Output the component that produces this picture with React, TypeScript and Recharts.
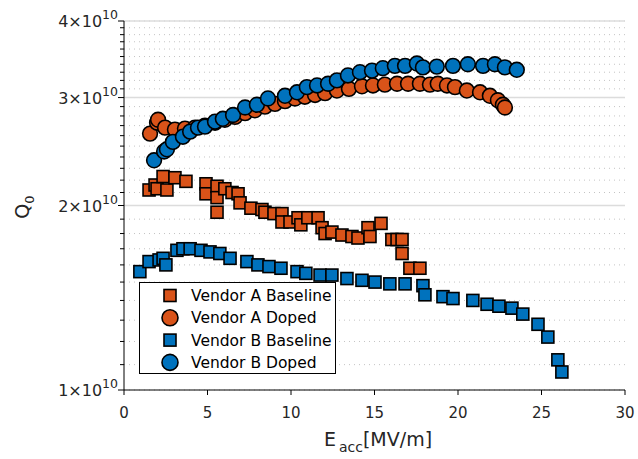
import React from 'react';
import { ScatterChart, Scatter, XAxis, YAxis, CartesianGrid, ReferenceLine, Legend } from 'recharts';

const ORANGE = '#D95319';
const BLUE = '#0072BD';
const FONT = '"DejaVu Sans", sans-serif';
const TEXT = '#262626';

const xTicks = [0, 5, 10, 15, 20, 25, 30];
// Q0 values are in units of 10^10
const yMajorTicks = [1, 2, 3, 4];
const yMinorTicks = [
  1.1, 1.2, 1.3, 1.4, 1.5, 1.6, 1.7, 1.8, 1.9,
  2.1, 2.2, 2.3, 2.4, 2.5, 2.6, 2.7, 2.8, 2.9,
  3.1, 3.2, 3.3, 3.4, 3.5, 3.6, 3.7, 3.8, 3.9,
];
const yAllTicks = [...yMajorTicks, ...yMinorTicks].sort((a, b) => a - b);
const yExponent = 10;

const seriesNames = ['Vendor A Baseline', 'Vendor A Doped', 'Vendor B Baseline', 'Vendor B Doped'];

const vendorABaselineE = [1.50, 1.86, 1.98, 2.34, 2.57, 3.05, 3.71, 4.91, 4.91, 5.57, 5.57, 5.57, 6.04, 6.47, 6.83, 6.95, 7.60, 8.26, 8.44, 8.98, 9.46, 9.46, 9.94, 10.42, 10.59, 11.01, 11.62, 11.86, 12.04, 12.45, 13.05, 13.65, 14.01, 14.61, 14.73, 15.39, 16.04, 16.35, 16.65, 16.65, 17.12, 17.72];
const vendorABaselineQ = [2.12, 2.16, 2.13, 2.23, 2.12, 2.22, 2.19, 2.17, 2.09, 2.15, 2.06, 1.95, 2.13, 2.10, 2.09, 2.02, 1.98, 1.97, 1.95, 1.94, 1.94, 1.88, 1.88, 1.91, 1.86, 1.91, 1.91, 1.84, 1.80, 1.81, 1.79, 1.78, 1.77, 1.84, 1.78, 1.87, 1.76, 1.76, 1.76, 1.67, 1.58, 1.58];

const vendorADopedE = [1.56, 1.98, 2.04, 2.46, 3.05, 3.65, 4.25, 4.85, 5.45, 6.04, 6.65, 7.25, 7.84, 8.44, 9.04, 9.64, 10.24, 10.83, 11.44, 12.04, 12.75, 13.47, 14.25, 14.91, 15.62, 16.35, 17.01, 17.72, 18.32, 18.79, 19.34, 19.82, 20.53, 21.32, 21.91, 22.39, 22.69, 22.81];
const vendorADopedQ = [2.62, 2.73, 2.76, 2.68, 2.66, 2.67, 2.68, 2.70, 2.73, 2.76, 2.79, 2.83, 2.86, 2.90, 2.93, 2.96, 2.99, 3.01, 3.03, 3.05, 3.08, 3.10, 3.13, 3.14, 3.15, 3.16, 3.16, 3.16, 3.15, 3.16, 3.14, 3.12, 3.08, 3.06, 3.02, 2.97, 2.92, 2.89];

const vendorBBaselineE = [0.95, 1.50, 2.10, 2.34, 2.51, 3.17, 3.53, 3.96, 4.61, 5.15, 5.74, 6.35, 7.36, 8.02, 8.68, 9.40, 10.36, 10.89, 11.74, 12.45, 13.35, 14.25, 15.03, 15.92, 16.83, 17.90, 18.02, 19.10, 19.70, 20.89, 21.74, 22.45, 23.23, 23.88, 24.79, 25.38, 25.98, 26.22];
const vendorBBaselineQ = [1.56, 1.62, 1.63, 1.64, 1.60, 1.69, 1.70, 1.70, 1.69, 1.68, 1.67, 1.64, 1.62, 1.60, 1.59, 1.58, 1.56, 1.55, 1.54, 1.54, 1.52, 1.51, 1.50, 1.49, 1.49, 1.48, 1.43, 1.42, 1.41, 1.40, 1.38, 1.37, 1.36, 1.33, 1.28, 1.22, 1.12, 1.07];

const vendorBDopedE = [1.80, 2.40, 2.57, 2.93, 3.53, 3.96, 4.43, 4.85, 5.45, 5.92, 6.53, 7.25, 7.96, 8.62, 9.64, 10.36, 10.95, 11.56, 12.22, 12.75, 13.41, 14.13, 14.85, 15.50, 16.22, 16.83, 17.54, 17.90, 18.73, 19.70, 20.59, 21.50, 22.21, 22.81, 23.52];
const vendorBDopedQ = [2.37, 2.45, 2.47, 2.54, 2.59, 2.64, 2.68, 2.69, 2.74, 2.77, 2.81, 2.89, 2.92, 2.99, 3.02, 3.06, 3.12, 3.14, 3.16, 3.20, 3.26, 3.30, 3.32, 3.35, 3.38, 3.38, 3.41, 3.36, 3.37, 3.38, 3.40, 3.38, 3.40, 3.36, 3.33];

const toPoints = (e: number[], q: number[]) => e.map((x, i) => ({ e: x, q: q[i] }));

const seriesList = [
  { name: seriesNames[0], data: toPoints(vendorABaselineE, vendorABaselineQ), color: ORANGE, marker: 'square' },
  { name: seriesNames[1], data: toPoints(vendorADopedE, vendorADopedQ), color: ORANGE, marker: 'circle' },
  { name: seriesNames[2], data: toPoints(vendorBBaselineE, vendorBBaselineQ), color: BLUE, marker: 'square' },
  { name: seriesNames[3], data: toPoints(vendorBDopedE, vendorBDopedQ), color: BLUE, marker: 'circle' },
];

const SQ = 12;
const CR = 7.4;

const makeShape = (color: string, marker: string) => (props: any) => {
  const { cx, cy } = props;
  if (cx == null || cy == null) return <g />;
  if (marker === 'square') {
    return <rect x={cx - SQ / 2} y={cy - SQ / 2} width={SQ} height={SQ} fill={color} stroke="#000" strokeWidth={1.6} />;
  }
  return <circle cx={cx} cy={cy} r={CR} fill={color} stroke="#000" strokeWidth={1.6} />;
};

const YTick = (props: any) => {
  const { x, y, payload } = props;
  const v = payload.value;
  const major = yMajorTicks.includes(v);
  return (
    <g>
      <line x1={x} x2={x - (major ? 6 : 4)} y1={y} y2={y} stroke="#000" strokeWidth={1} />
      {major && (
        <text x={x - 6} y={y + 6} textAnchor="end" fontFamily={FONT} fontSize={16} fill={TEXT}>
          <tspan>{`${v}×10`}</tspan>
          <tspan dy={-8} fontSize={12.5}>{String(yExponent)}</tspan>
        </text>
      )}
    </g>
  );
};

const LegendBox = () => (
  <div style={{ width: 197, height: 92, boxSizing: 'border-box', border: '1px solid #000', background: '#fff' }}>
    <svg width={195} height={90}>
      {seriesList.map((s, i) => {
        const cy = 12.5 + i * 22.3;
        return (
          <g key={s.name}>
            {s.marker === 'square' ? (
              <rect x={30 - SQ / 2} y={cy - SQ / 2} width={SQ} height={SQ} fill={s.color} stroke="#000" strokeWidth={1.6} />
            ) : (
              <circle cx={30} cy={cy} r={CR + 0.6} fill={s.color} stroke="#000" strokeWidth={1.6} />
            )}
            <text x={51} y={cy + 5.5} fontFamily={FONT} fontSize={15.5} fill="#000">{s.name}</text>
          </g>
        );
      })}
    </svg>
  </div>
);

export default function App() {
  return (
    <div style={{ position: 'absolute', left: 0, top: 0, width: 638, height: 459, background: '#fff' }}>
      <ScatterChart width={638} height={459} margin={{ top: 21, right: 13, bottom: 0, left: 0 }}>
        <CartesianGrid vertical={false} stroke="#c4c4c4" strokeDasharray="1 4" />
        {[2, 3, 4].map((v) => (
          <ReferenceLine key={v} y={v} stroke="#dcdcdc" strokeWidth={1.5} />
        ))}
        <XAxis
          type="number"
          dataKey="e"
          domain={[0, 30]}
          ticks={xTicks}
          allowDataOverflow
          height={69}
          tickSize={5}
          tickMargin={12}
          stroke="#000"
          tick={{ fontSize: 15, fill: TEXT, fontFamily: FONT }}
          label={{
            content: () => (
              <text x={378} y={446} textAnchor="middle" fontFamily={FONT} fontSize={19} fill={TEXT}>
                <tspan>E</tspan>
                <tspan dx={3} dy={6} fontSize={14}>acc</tspan>
                <tspan dy={-6}>[MV/m]</tspan>
              </text>
            ),
          }}
        />
        <YAxis
          type="number"
          dataKey="q"
          scale="log"
          domain={[1, 4]}
          ticks={yAllTicks}
          allowDataOverflow
          width={124}
          tickLine={false}
          tickSize={0}
          tickMargin={0}
          stroke="#000"
          interval={0}
          tick={<YTick />}
          label={{
            content: () => (
              <text transform="translate(29,207) rotate(-90)" textAnchor="middle" fontFamily={FONT} fontSize={19} fill={TEXT}>
                <tspan>Q</tspan>
                <tspan dy={5} fontSize={13}>0</tspan>
              </text>
            ),
          }}
        />
        {seriesList.map((s) => (
          <Scatter
            key={s.name}
            name={s.name}
            data={s.data}
            fill={s.color}
            isAnimationActive={false}
            shape={makeShape(s.color, s.marker)}
          />
        ))}
        <Legend
          layout="vertical"
          align="center"
          verticalAlign="middle"
          wrapperStyle={{ position: 'absolute', left: 139, top: 282, width: 197, height: 92 }}
          content={() => <LegendBox />}
        />
      </ScatterChart>
    </div>
  );
}
